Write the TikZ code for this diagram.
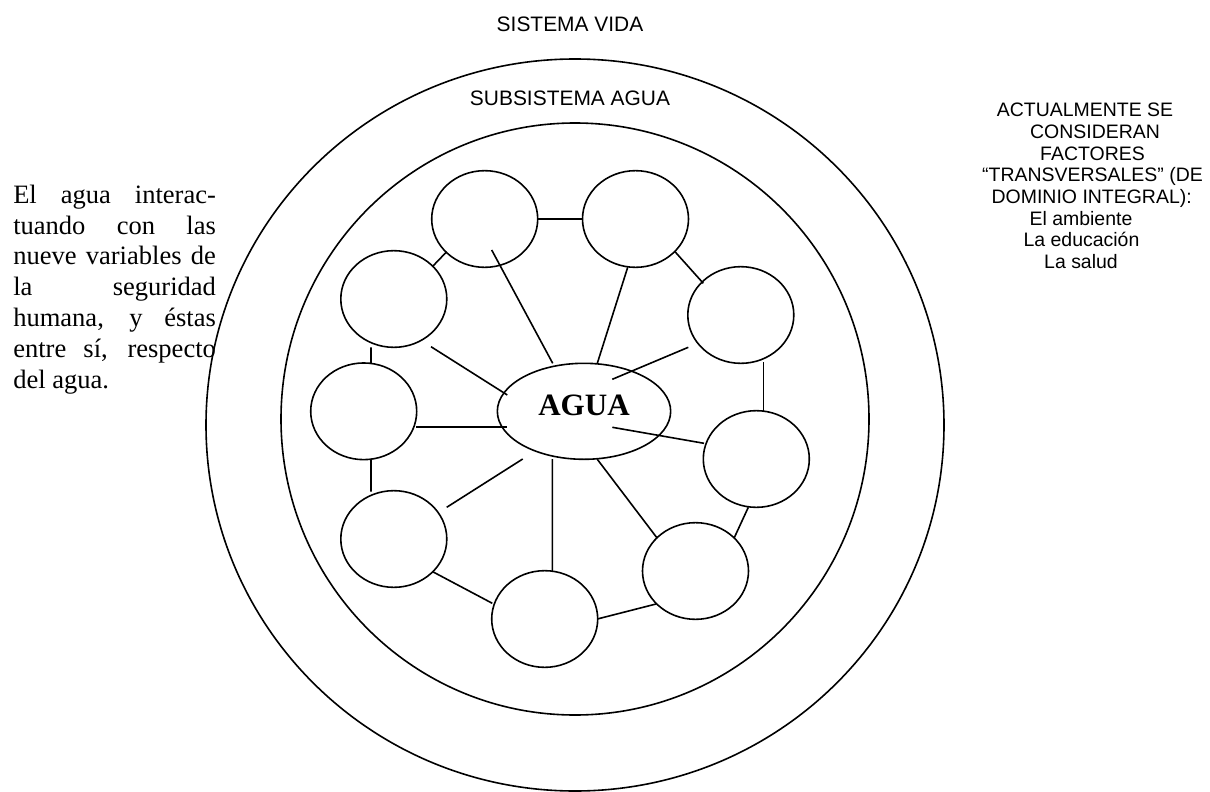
\documentclass[tikz,border=0pt]{standalone}
\usepackage{fontspec}
\setmainfont{Liberation Serif}
\newfontfamily\arialfont{Liberation Sans}
\usetikzlibrary{shapes.geometric,calc}
\begin{document}
\begin{tikzpicture}[x=0.75pt,y=-0.75pt,
  var/.style={draw, ellipse, line width=1.2pt, minimum width=79.5pt, minimum height=72.5pt, inner sep=0pt},
  core/.style={draw, ellipse, line width=1.2pt, minimum width=130pt, minimum height=72pt, inner sep=0pt,
    font=\bfseries\fontsize{23.3pt}{26pt}\selectfont, text depth=9pt},
  link/.style={line width=1.2pt},
  ring/.style={line width=1.2pt},
  title/.style={font=\arialfont\fontsize{15.7pt}{18pt}\selectfont, inner sep=0pt, anchor=base},
  side/.style={font=\arialfont\fontsize{14.6pt}{16pt}\selectfont, inner sep=0pt, anchor=base},
  note/.style={font=\fontsize{19.9pt}{23pt}\selectfont, inner sep=0pt, anchor=base west}]
\useasboundingbox (0,0) rectangle (1210,792);

% system boundaries
\draw[ring] (575,425) ellipse[x radius=369, y radius=366];
\draw[ring] (575,419) ellipse[x radius=294, y radius=296];

\node[title] (vida) at (570,31.7) {SISTEMA VIDA};
\node[title] (sub) at (570,106) {SUBSISTEMA AGUA};

% central element and the nine variables
\node[core] (agua) at (584,411.3) {AGUA};
\node[var] (v1) at (484.7,219) {};
\node[var] (v2) at (635.5,219) {};
\node[var] (v3) at (740.8,315) {};
\node[var] (v4) at (756.3,459) {};
\node[var] (v5) at (695.5,571) {};
\node[var] (v6) at (544.7,619) {};
\node[var] (v7) at (393.8,539) {};
\node[var] (v8) at (363.7,411.3) {};
\node[var] (v9) at (393.8,299) {};

% ring of variables
\draw[link] ($(v1)+(53,0)$) -- ($(v2)+(-53,0)$);
\draw[link] ($(v2)+(39.5,32.7)$) -- ($(v3)+(-37.5,-31.7)$);
\draw[link] ($(v3)+(22.5,47.3)$) -- ($(v4)+(7,-48)$);
\draw[link] ($(v4)+(-8,48.3)$) -- ($(v5)+(38.5,-32.7)$);
\draw[link] ($(v5)+(-39.5,33)$) -- ($(v6)+(52.6,0)$);
\draw[link] ($(v7)+(38.9,32.7)$) -- ($(v6)+(-52.4,-15.7)$);
\draw[link] ($(v8)+(7.3,48)$) -- ($(v7)+(-22.8,-47.3)$);
\draw[link] ($(v9)+(-22.8,48.3)$) -- ($(v8)+(7.3,-48)$);
\draw[link] ($(v1)+(-38,32.7)$) -- ($(v9)+(38.5,-32.3)$);

% spokes to the centre
\draw[link] ($(v1)+(7,31)$) -- ($(agua)+(-31.3,-48)$);
\draw[link] ($(v2)+(-7.8,48.3)$) -- ($(agua)+(13.3,-48)$);
\draw[link] ($(v3)+(-52.5,32.3)$) -- ($(agua)+(28.3,-32)$);
\draw[link] ($(agua)+(28.3,16)$) -- ($(v4)+(-52.3,-15.7)$);
\draw[link] ($(agua)+(13.3,48)$) -- ($(v5)+(-38.2,-32.7)$);
\draw[link] ($(agua)+(-31.7,47.7)$) -- ($(v6)+(7.6,-47.3)$);
\draw[link] ($(v7)+(52.9,-31.7)$) -- ($(agua)+(-61.3,47.7)$);
\draw[link] ($(v8)+(52.3,15.4)$) -- ($(agua)+(-76.7,15.4)$);
\draw[link] ($(v9)+(37.2,47.7)$) -- ($(agua)+(-76.7,-16.3)$);

% left note, justified line by line
\node[note] (n1) at (13,203.3) {\makebox[152pt][s]{El agua interac-}};
\node[note] (n2) at (13,234.1) {\makebox[152pt][s]{tuando con las}};
\node[note] (n3) at (13,264.9) {\makebox[152pt][s]{nueve variables de}};
\node[note] (n4) at (13,295.7) {\makebox[152pt][s]{la seguridad}};
\node[note] (n5) at (13,326.5) {\makebox[152pt][s]{humana, y éstas}};
\node[note] (n6) at (13,357.3) {\makebox[152pt][s]{entre sí, respecto}};
\node[note] (n7) at (13,388.1) {del agua.};

% right note
\node[side] (s1) at (1085,116.7) {ACTUALMENTE SE};
\node[side] (s2) at (1095,138.3) {CONSIDERAN};
\node[side] (s3) at (1092.5,160) {FACTORES};
\node[side] (s4) at (1092.5,181.7) {“TRANSVERSALES” (DE};
\node[side] (s5) at (1091.7,203.3) {DOMINIO INTEGRAL):};
\node[side] (s6) at (1081,225) {El ambiente};
\node[side] (s7) at (1081.5,246.7) {La educación};
\node[side] (s8) at (1081,268.3) {La salud};
\end{tikzpicture}
\end{document}
